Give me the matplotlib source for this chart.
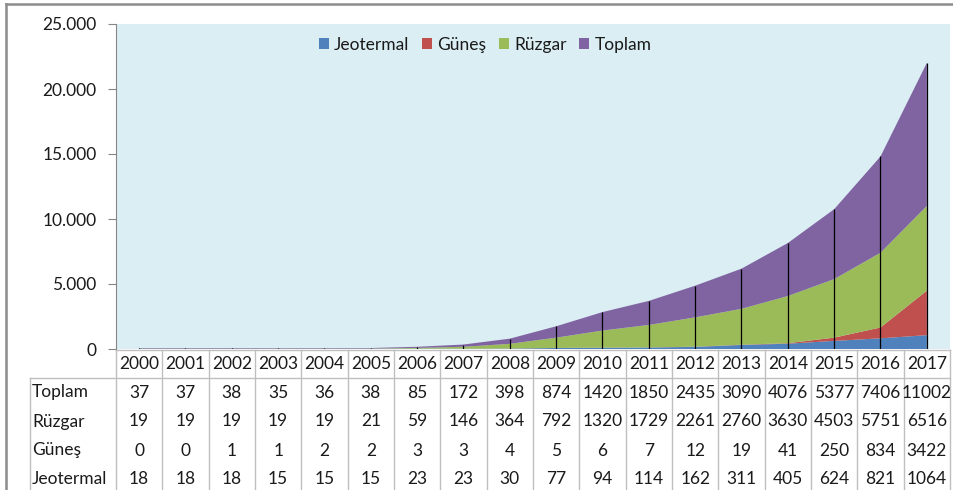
import matplotlib
matplotlib.use("Agg")
import matplotlib.pyplot as plt
from matplotlib.transforms import blended_transform_factory
from matplotlib.lines import Line2D
from matplotlib.ticker import FuncFormatter
import numpy as np

years = [str(y) for y in range(2000, 2018)]
toplam = [37, 37, 38, 35, 36, 38, 85, 172, 398, 874, 1420, 1850, 2435, 3090, 4076, 5377, 7406, 11002]
ruzgar = [19, 19, 19, 19, 19, 21, 59, 146, 364, 792, 1320, 1729, 2261, 2760, 3630, 4503, 5751, 6516]
gunes = [0, 0, 1, 1, 2, 2, 3, 3, 4, 5, 6, 7, 12, 19, 41, 250, 834, 3422]
jeotermal = [18, 18, 18, 15, 15, 15, 23, 23, 30, 77, 94, 114, 162, 311, 405, 624, 821, 1064]
series_names = ["Jeotermal", "Güneş", "Rüzgar", "Toplam"]
colors = ["#4F81BD", "#C0504D", "#9BBB59", "#8064A2"]
yticks = [0, 5000, 10000, 15000, 20000, 25000]

plt.rcParams['font.family'] = ['Lato', 'DejaVu Sans']
txt = '#1a1a1a'
FS = 12.5

W, H = 954, 490
fig = plt.figure(figsize=(W / 100, H / 100), dpi=100)
fig.patch.set_facecolor('white')
L, R, T, B = 116, 950, 24, 349
ax = fig.add_axes([L / W, 1 - B / H, (R - L) / W, (B - T) / H])
ax.set_facecolor('#DBEEF3')

x = np.arange(len(years))
ax.stackplot(x, jeotermal, gunes, ruzgar, toplam, colors=colors, labels=series_names)
tops = np.array(jeotermal) + np.array(gunes) + np.array(ruzgar) + np.array(toplam)
ax.vlines(x, 0, tops, colors='black', linewidth=0.9)

ax.set_xlim(-0.5, len(years) - 0.5)
ax.set_ylim(0, 25000)
ax.set_xticks([])
ax.set_yticks(yticks)
ax.yaxis.set_major_formatter(FuncFormatter(lambda v, p: f"{int(v):,}".replace(",", ".")))
ax.tick_params(axis='y', direction='out', length=6, color='#868686', labelsize=FS, labelcolor=txt, pad=8)
for s in ['top', 'right', 'bottom']:
    ax.spines[s].set_visible(False)
ax.spines['left'].set_color('#868686')

leg = ax.legend(loc='center', bbox_to_anchor=((485 - L) / (R - L), (B - 45) / (B - T)), ncol=4,
                frameon=False, handlelength=0.6, handleheight=0.6, handletextpad=0.3,
                columnspacing=0.7, fontsize=FS)
for t in leg.get_texts():
    t.set_color(txt)

# Data table
def ay(p):
    return (B - p) / (B - T)

def ax_x(p):
    return (p - L) / (R - L)

bt = blended_transform_factory(ax.transData, ax.transAxes)
gc = '#BFBFBF'
header_top, header_bot = 350, 378
row_h = 29
rows = [("Toplam", toplam), ("Rüzgar", ruzgar), ("Güneş", gunes), ("Jeotermal", jeotermal)]
bottom_p = 495

for i, yl in enumerate(years):
    ax.text(i, ay((header_top + header_bot) / 2), yl, transform=bt, ha='center', va='center',
            fontsize=FS, color=txt, clip_on=False)
for r, (name, vals) in enumerate(rows):
    yc = header_bot + row_h * r + row_h / 2
    ax.text(ax_x(32), ay(yc), name, transform=ax.transAxes, ha='left', va='center',
            fontsize=FS, color=txt, clip_on=False)
    for i, v in enumerate(vals):
        ax.text(i, ay(yc), str(v), transform=bt, ha='center', va='center',
                fontsize=FS, color=txt, clip_on=False)

# grid lines
ax.add_line(Line2D([-0.5, len(years) - 0.5], [ay(header_top)] * 2, transform=bt, color=gc, lw=1, clip_on=False))
ax.add_line(Line2D([ax_x(30), 1], [ay(header_bot)] * 2, transform=ax.transAxes, color=gc, lw=1, clip_on=False))
for i in range(len(years) + 1):
    ax.add_line(Line2D([i - 0.5, i - 0.5], [ay(header_top), ay(bottom_p)], transform=bt, color=gc, lw=1, clip_on=False))
ax.add_line(Line2D([ax_x(30), ax_x(30)], [ay(header_bot), ay(bottom_p)], transform=ax.transAxes, color=gc, lw=1, clip_on=False))

# outer chart border
fig.add_artist(Line2D([6 / W, 6 / W], [0, 1 - 4 / H], transform=fig.transFigure, color='#8C8C8C', lw=1.8))
fig.add_artist(Line2D([6 / W, 1], [1 - 4 / H, 1 - 4 / H], transform=fig.transFigure, color='#8C8C8C', lw=1.8))

fig.savefig('out.png', dpi=100)
